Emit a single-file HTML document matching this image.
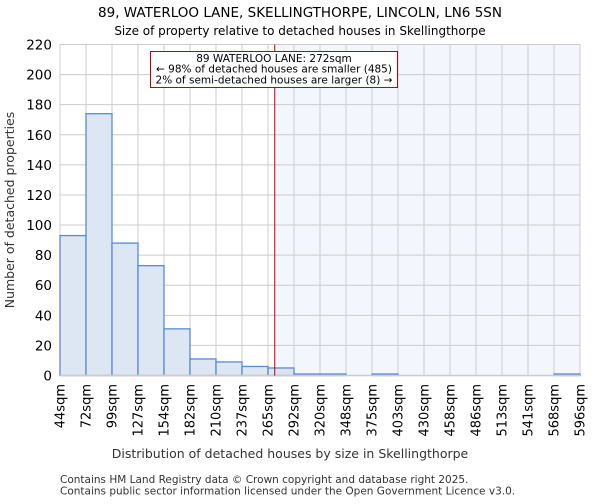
<!DOCTYPE html>
<html><head><meta charset="utf-8"><style>
body{margin:0;background:#fff;font-family:"DejaVu Sans","Liberation Sans",sans-serif}
</style></head><body>
<svg width="600" height="500" xmlns="http://www.w3.org/2000/svg" font-family="DejaVu Sans, Liberation Sans, sans-serif">
<text x="300" y="17" text-anchor="middle" font-size="13.5">89, WATERLOO LANE, SKELLINGTHORPE, LINCOLN, LN6 5SN</text>
<text x="300" y="35" text-anchor="middle" font-size="12">Size of property relative to detached houses in Skellingthorpe</text>
<g id="plot"></g>
<text transform="translate(14,210) rotate(-90)" text-anchor="middle" font-size="12.5" fill="#333">Number of detached properties</text>
<text x="290" y="458" text-anchor="middle" font-size="12.5" fill="#333">Distribution of detached houses by size in Skellingthorpe</text>
<text x="60" y="483" font-size="10.5" fill="#333">Contains HM Land Registry data © Crown copyright and database right 2025.</text>
<text x="60" y="494.5" font-size="10.5" fill="#333">Contains public sector information licensed under the Open Government Licence v3.0.</text>
</svg>
<script>
const binEdges=[44,72,99,127,154,182,210,237,265,292,320,348,375,403,430,458,486,513,541,568,596];
const counts=[93,174,88,73,31,11,9,6,5,1,1,0,1,0,0,0,0,0,0,1];
const yTicks=[0,20,40,60,80,100,120,140,160,180,200,220];
const markerValue=272;
const annotation=["89 WATERLOO LANE: 272sqm","← 98% of detached houses are smaller (485)","2% of semi-detached houses are larger (8) →"];
const L=60,R=580,T=44.5,B=375.5,NS="http://www.w3.org/2000/svg";
const g=document.getElementById('plot');
const xs=v=>{let i=0;while(i<binEdges.length-2&&v>binEdges[i+1])i++;return L+(R-L)/(binEdges.length-1)*(i+(v-binEdges[i])/(binEdges[i+1]-binEdges[i]));};
const xi=i=>L+(R-L)/(binEdges.length-1)*i;
const ys=v=>B-(B-T)*v/220;
function mk(t,a){const e=document.createElementNS(NS,t);for(const k in a)e.setAttribute(k,a[k]);g.appendChild(e);return e;}
const mx=xs(markerValue);
let e=mk('rect',{x:mx,y:T,width:R-mx,height:B-T,fill:'#f3f6fd'});


yTicks.forEach(v=>{let l=mk('line',{x1:L,x2:R,y1:ys(v),y2:ys(v),stroke:'#cccccc'});


let t=mk('text',{x:L-8,y:ys(v)+5,'text-anchor':'end','font-size':'13.5'});t.textContent=v;

});
binEdges.forEach((v,i)=>{let l=mk('line',{x1:xi(i),x2:xi(i),y1:T,y2:B,stroke:'#cccccc'});


let t=mk('text',{transform:`translate(${xi(i)+4.5},384) rotate(-90)`,'text-anchor':'end','font-size':'13'});t.textContent=v+'sqm';

});
counts.forEach((c,i)=>{if(!c)return;let r=mk('rect',{x:xi(i),y:ys(c),width:xi(i+1)-xi(i),height:B-ys(c),fill:i>=8?'rgba(200,215,240,0.6)':'#dde7f4',stroke:'#5a8ad0','stroke-width':1.3});

});
e=mk('line',{x1:L,x2:R,y1:B,y2:B,stroke:'#cccccc','stroke-width':1.5});


e=mk('line',{x1:mx,x2:mx,y1:T,y2:B,stroke:'#c00000','stroke-width':1});


e=mk('rect',{x:150.5,y:51.5,width:247,height:36,fill:'#fff',stroke:'#c00000'});


annotation.forEach((s,i)=>{let t=mk('text',{x:274,y:62+i*10.7,'text-anchor':'middle','font-size':'10.5'});t.textContent=s;

});
</script>
</body></html>
